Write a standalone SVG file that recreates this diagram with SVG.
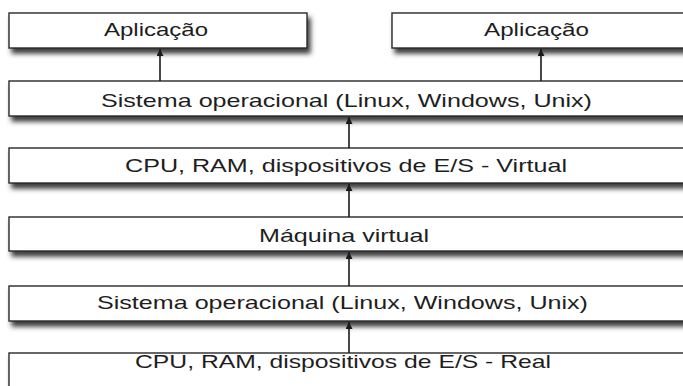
<svg xmlns="http://www.w3.org/2000/svg" width="683" height="386" viewBox="0 0 683 386">
<style>
.box{fill:#fff;stroke:#2a2a2a;stroke-width:1.4;filter:url(#sh)}
.lbl{font-family:"Liberation Sans",Arial,sans-serif;font-size:18.5px;fill:#1e1e1e}
.conn{stroke:#1a1a1a;stroke-width:1.6;fill:none;marker-end:url(#ah)}
</style>
<defs>
<filter id="sh" x="-5%" y="-30%" width="115%" height="190%">
<feDropShadow dx="3" dy="5" stdDeviation="2.5" flood-color="#333" flood-opacity="0.95"/>
</filter>
<marker id="ah" viewBox="0 0 10 10" refX="10" refY="5" markerWidth="7" markerHeight="7" markerUnits="userSpaceOnUse" orient="auto">
<path d="M0,0 L10,5 L0,10 z" fill="#1a1a1a"/>
</marker>
</defs>
<rect width="683" height="386" fill="#fff"/>
<g id="app1"><rect class="box" x="9" y="13" width="298" height="35"/><text class="lbl" x="104" y="36" textLength="104" lengthAdjust="spacingAndGlyphs">Aplicação</text></g>
<g id="app2"><rect class="box" x="392" y="13" width="300" height="35"/><text class="lbl" x="484" y="36" textLength="105" lengthAdjust="spacingAndGlyphs">Aplicação</text></g>
<g id="so_guest"><rect class="box" x="9" y="81" width="680" height="35"/><text class="lbl" x="101" y="107" textLength="491" lengthAdjust="spacingAndGlyphs">Sistema operacional (Linux, Windows, Unix)</text></g>
<g id="hw_virtual"><rect class="box" x="9" y="148" width="680" height="35"/><text class="lbl" x="125" y="172" textLength="442" lengthAdjust="spacingAndGlyphs">CPU, RAM, dispositivos de E/S - Virtual</text></g>
<g id="vm"><rect class="box" x="9" y="217" width="680" height="34"/><text class="lbl" x="259" y="242" textLength="170" lengthAdjust="spacingAndGlyphs">Máquina virtual</text></g>
<g id="so_host"><rect class="box" x="9" y="286" width="680" height="35"/><text class="lbl" x="97" y="309" textLength="491" lengthAdjust="spacingAndGlyphs">Sistema operacional (Linux, Windows, Unix)</text></g>
<g id="hw_real"><rect class="box" x="9" y="353" width="680" height="40"/><text class="lbl" x="135" y="368" textLength="416" lengthAdjust="spacingAndGlyphs">CPU, RAM, dispositivos de E/S - Real</text></g>
<g id="connectors">
<line class="conn" x1="160" y1="81" x2="160" y2="49"/>
<line class="conn" x1="541" y1="81" x2="541" y2="49"/>
<line class="conn" x1="349" y1="148" x2="349" y2="117"/>
<line class="conn" x1="349" y1="217" x2="349" y2="184"/>
<line class="conn" x1="349" y1="286" x2="349" y2="252"/>
<line class="conn" x1="349" y1="353" x2="349" y2="322"/>
</g>
</svg>
